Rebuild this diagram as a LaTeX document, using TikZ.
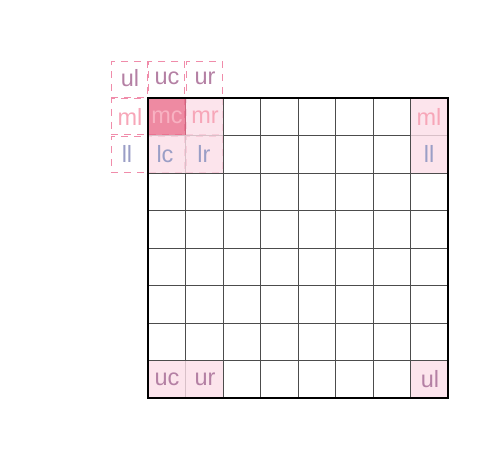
\documentclass[tikz,border=0pt]{standalone}
\usepackage{fontspec}
\setmainfont{Liberation Sans}
\definecolor{darkpink}{HTML}{EA6D8B}
\definecolor{lightpink}{HTML}{FBDDE7}
\definecolor{mauve}{HTML}{B480A4}
\definecolor{pinktxt}{HTML}{F7A6B8}
\definecolor{mctxt}{HTML}{F8B2C2}
\definecolor{bluetxt}{HTML}{9A9EC6}
\definecolor{dashpink}{HTML}{F08CAA}
\tikzset{
  lbl/.style={font=\fontsize{23.5}{23.5}\selectfont, inner sep=0pt, anchor=center},
  dashcell/.style={draw=dashpink, dash pattern=on 7pt off 6pt, dash phase=3pt, line width=1pt},
  lightcell/.style={fill=lightpink, fill opacity=0.8},
  darkcell/.style={fill=darkpink, fill opacity=0.8},
}
\begin{document}
\begin{tikzpicture}[x=1pt,y=-1pt]
\useasboundingbox (0,0) rectangle (497,449);
\def\cs{37.5}
% grid
\foreach \i in {1,...,7}{
  \draw[line width=0.8pt, color=black!70] ({148+\cs*\i},98) -- ({148+\cs*\i},398);
  \draw[line width=0.8pt, color=black!70] (148,{98+\cs*\i}) -- (448,{98+\cs*\i});
}
% dashed neighbourhood
\foreach \c in {-1,0,1}{
  \foreach \r in {-1,0,1}{
    \draw[dashcell] ({148+\cs*\c+0.8},{98+\cs*\r+0.8}) rectangle ++({\cs-1.6},{\cs-1.6});
  }
}
% filled cells
\fill[darkcell] (148,98) rectangle ++(\cs,\cs);
\foreach \c/\r in {1/0,0/1,1/1,7/0,7/1,0/7,1/7,7/7}{
  \fill[lightcell] ({148+\cs*\c},{98+\cs*\r}) rectangle ++(\cs,\cs);
}
% outer border
\draw[line width=1.8pt, black] (148,98) rectangle (448,398);
% labels
\node[lbl, text=mauve] (ul) at (130,78) {ul};
\node[lbl, text=mauve] (uc) at (167,78) {uc};
\node[lbl, text=mauve] (ur) at (205,78) {ur};
\node[lbl, text=pinktxt] (ml) at (130,117) {ml};
\node[lbl, text=mctxt] (mc) at (167,117) {mc};
\node[lbl, text=pinktxt] (mr) at (205,117) {mr};
\node[lbl, text=bluetxt] (ll) at (127,154) {ll};
\node[lbl, text=bluetxt] (lc) at (165,154) {lc};
\node[lbl, text=bluetxt] (lr) at (204,154) {lr};
\node[lbl, text=pinktxt] (ml2) at (429,117) {ml};
\node[lbl, text=bluetxt] (ll2) at (429,154) {ll};
\node[lbl, text=mauve] (uc2) at (167,379) {uc};
\node[lbl, text=mauve] (ur2) at (205,379) {ur};
\node[lbl, text=mauve] (ul2) at (430,379) {ul};
\end{tikzpicture}
\end{document}
